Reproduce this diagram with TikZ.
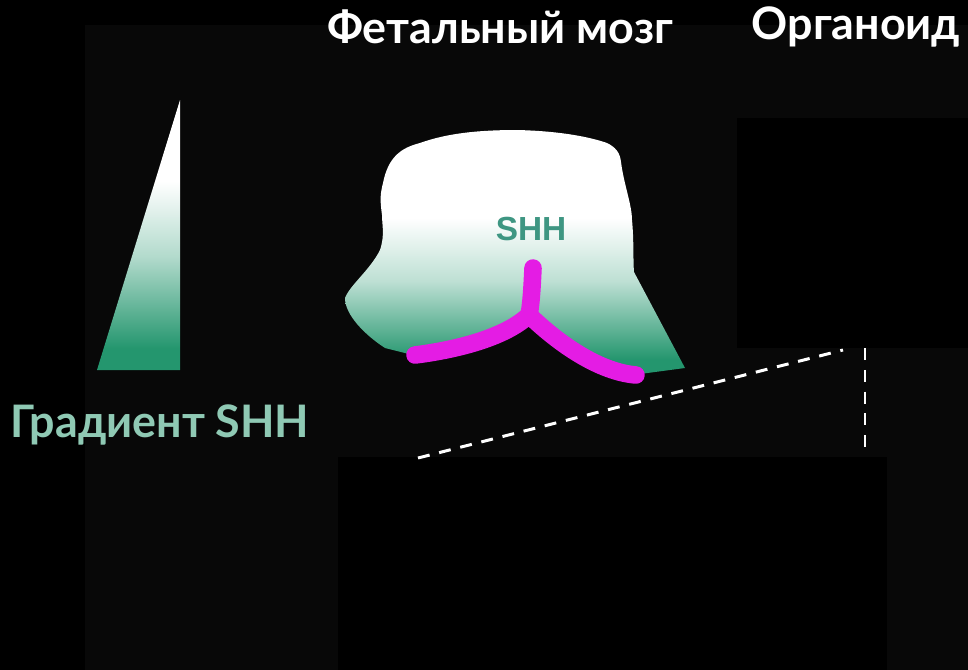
\documentclass[tikz,border=0pt]{standalone}
\usepackage{fontspec}
\setmainfont{Lato}
\newfontfamily\arialfont{Liberation Sans}
\usepackage{tikz}
\usetikzlibrary{positioning}

\definecolor{panelgray}{RGB}{8,8,8}
\definecolor{shhgreen}{RGB}{36,150,110}
\definecolor{shhmint}{RGB}{143,201,180}
\definecolor{shhteal}{RGB}{62,150,130}
\definecolor{floorplate}{RGB}{228,28,228}

% the path's box sits between 25bp and 75bp of a shading
\pgfdeclareverticalshading{triafade}{100bp}{color(0bp)=(shhgreen); color(29bp)=(shhgreen); color(46bp)=(shhgreen!35!white); color(60bp)=(white); color(100bp)=(white)}
\pgfdeclareverticalshading{brainfade}{100bp}{color(0bp)=(shhgreen); color(28bp)=(shhgreen); color(44bp)=(shhgreen!30!white); color(57bp)=(white); color(100bp)=(white)}

\tikzset{
    title/.style={text=white, font=\bfseries\fontsize{25.5}{28}\selectfont, inner sep=0pt},
    zoomline/.style={white, line width=1.7pt, dash pattern=on 6.8pt off 5.6pt},
}

\begin{document}
\begin{tikzpicture}[x=0.02cm, y=-0.02cm]
    
\fill[black] (0,0) rectangle (968,670);
\fill[panelgray] (85,25) rectangle (968,670);
\useasboundingbox (0,0) rectangle (968,670);

% empty frames for the organoid images
\fill[black] (737,118) rectangle (968,348);
\fill[black] (338,457) rectangle (887,670);

\coordinate (orgcorner) at (843,350);
\coordinate (orgbottom) at (865,348);
\coordinate (slicetop) at (418,458);
\coordinate (slicemark) at (865,452);

% SHH gradient
\shade[shading=triafade] (97,370) -- (180,370) -- (180,100) -- cycle;

% fetal brain
\shade[shading=brainfade]
    (383,183) .. controls (388,158) and (400,148) .. (420,143)
    .. controls (445,134) and (475,130) .. (517,130)
    .. controls (560,131) and (590,137) .. (607,143)
    .. controls (615,147) and (620,152) .. (621,162)
    .. controls (624,185) and (632,205) .. (632,220)
    .. controls (634,240) and (633,260) .. (634,272)
    -- (685,368) -- (640,374)
    .. controls (600,365) and (560,345) .. (530,318)
    .. controls (500,340) and (450,350) .. (413,355)
    -- (385,348)
    .. controls (365,335) and (345,315) .. (345,298)
    .. controls (350,285) and (370,270) .. (380,250)
    .. controls (385,235) and (382,225) .. (382,215)
    .. controls (380,200) and (380,195) .. (383,183) -- cycle;

\draw[floorplate, line width=10pt, line cap=round, line join=round]
    (533,268) .. controls (532,290) and (531,305) .. (529,315)
    .. controls (505,338) and (455,350) .. (415,355);
\draw[floorplate, line width=10pt, line cap=round, line join=round]
    (529,315) .. controls (560,345) and (600,372) .. (636,375);

\node[text=shhteal, font=\arialfont\bfseries\fontsize{19}{21}\selectfont] (shh) at (531,229) {SHH};

% titles
\node[title] (fetal) at (500,27) {Фетальный мозг};
\node[title] (organoid) at (856,27) {Органоид};
\node[title, text=shhmint] (gradlabel) at (160,425) {Градиент SHH};

\draw[zoomline] (slicetop) -- (orgcorner);
\draw[zoomline] (orgbottom) -- (slicemark);
\end{tikzpicture}
\end{document}
